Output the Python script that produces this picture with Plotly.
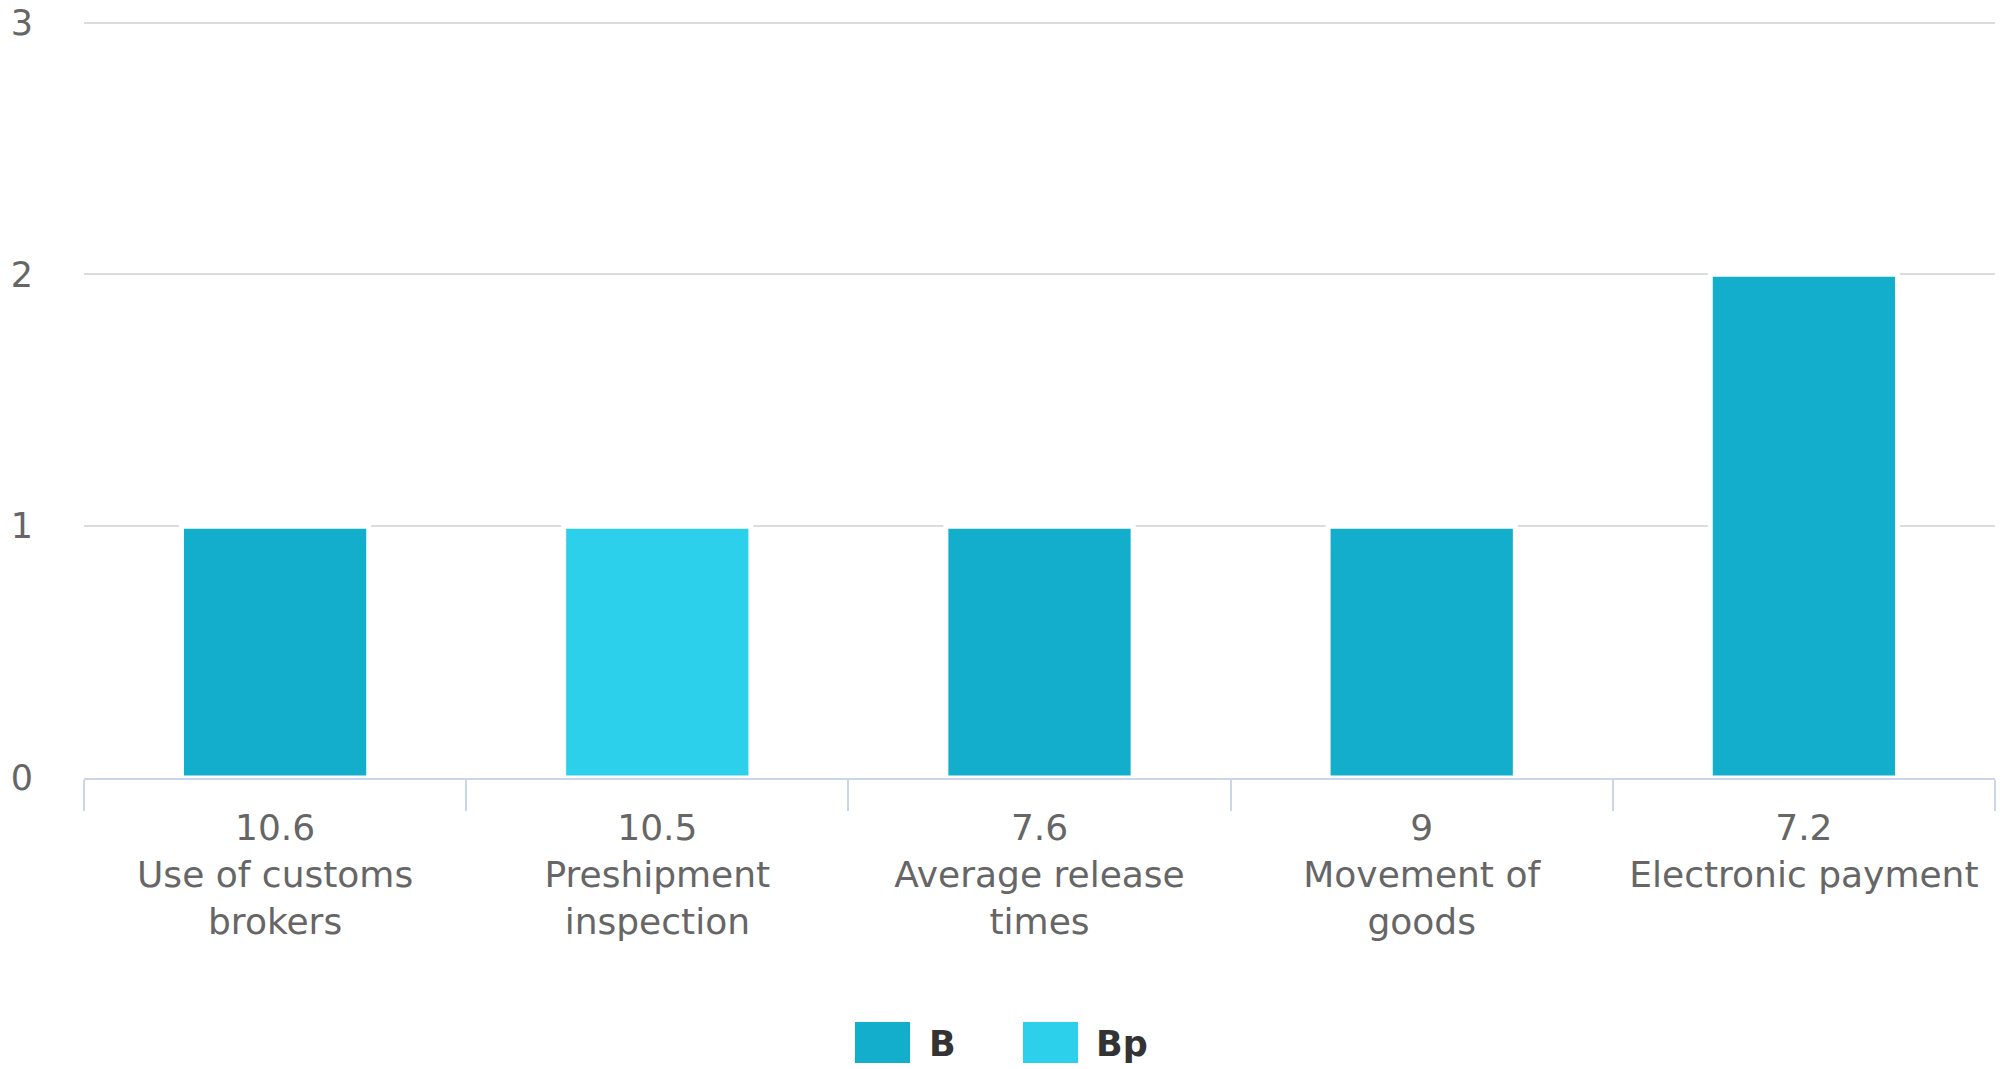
import plotly.graph_objects as go

categories = ["Use of customs brokers", "Preshipment inspection", "Average release times",
              "Movement of goods", "Electronic payment"]
codes = ["10.6", "10.5", "7.6", "9", "7.2"]
tick_labels = ["10.6<br>Use of customs<br>brokers", "10.5<br>Preshipment<br>inspection",
               "7.6<br>Average release<br>times", "9<br>Movement of<br>goods",
               "7.2<br>Electronic payment"]
values = [1, 1, 1, 1, 2]
series = ["B", "Bp", "B", "B", "B"]

series_names = ["B", "Bp"]
series_colors = {"B": "#13aecb", "Bp": "#2dd0ea"}

W, H = 2005, 1069
L, R, T, B = 84, 10, 20, 291
YMAX = 3.01
FONT = "DejaVu Sans"

fig = go.Figure()
for s in series_names:
    xs = [c for c, g in zip(categories, series) if g == s]
    ys = [v for v, g in zip(values, series) if g == s]
    fig.add_trace(go.Bar(x=xs, y=ys, name=s, width=0.49, showlegend=False,
                         marker=dict(color=series_colors[s], line=dict(color="white", width=5))))

# custom legend (big square swatches like the original)
def px2paper(x, y):
    return (x - L) / (W - L - R), (H - B - y) / (H - T - B)

legend_items = [("B", 855, 927), ("Bp", 1023, 1094)]
for name, sx, tx in legend_items:
    x0, y0 = px2paper(sx, 1063)
    x1, y1 = px2paper(sx + 55, 1022)
    fig.add_shape(type="rect", xref="paper", yref="paper", x0=x0, x1=x1, y0=y0, y1=y1,
                  fillcolor=series_colors[name], line=dict(width=0))
    ax, ay = px2paper(tx, 1044)
    fig.add_annotation(xref="paper", yref="paper", x=ax, y=ay, text="<b>%s</b>" % name,
                       showarrow=False, xanchor="left", yanchor="middle",
                       font=dict(family=FONT, size=35, color="#333333"))

fig.update_layout(
    width=W, height=H,
    margin=dict(l=L, r=R, t=T, b=B, autoexpand=False),
    paper_bgcolor="white", plot_bgcolor="white",
    barmode="overlay",
    font=dict(family=FONT, color="#666666"),
    xaxis=dict(categoryorder="array", categoryarray=categories,
               tickvals=categories, ticktext=tick_labels, automargin=False,
               tickson="boundaries", ticks="outside", ticklen=31, tickwidth=2,
               tickcolor="#ccd6eb", showline=True, linecolor="#ccd6eb", linewidth=2,
               ticklabelstandoff=17,
               tickfont=dict(size=36, color="#666666"), showgrid=False),
    yaxis=dict(range=[0, YMAX], tickvals=[0, 1, 2, 3], showgrid=True, gridcolor="#dcdcdc",
               gridwidth=2, zeroline=False, showline=False,
               ticks="outside", ticklen=43, tickcolor="rgba(0,0,0,0)",
               automargin=False, tickfont=dict(size=35, color="#666666")),
)

fig.write_html("out.html", config={"displayModeBar": False},
               post_script="document.body.style.margin='0px';")
